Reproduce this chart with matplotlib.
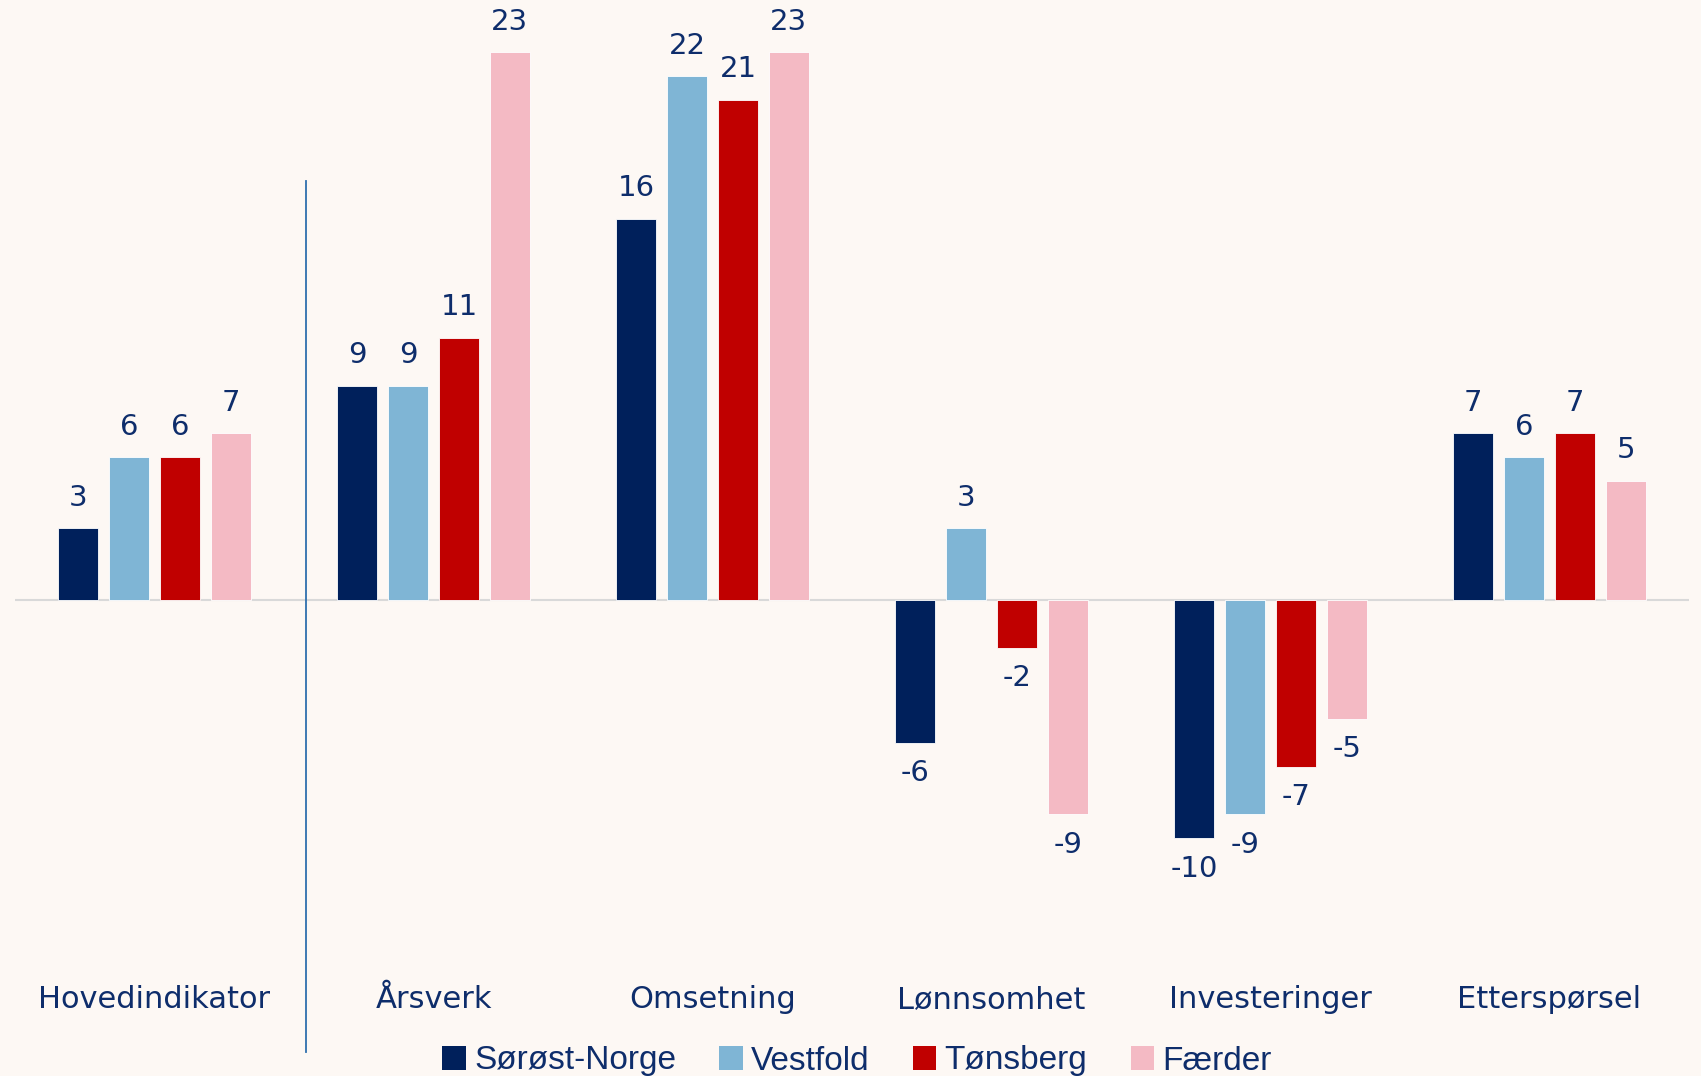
import numpy as np
import matplotlib.pyplot as plt
from matplotlib.patches import Rectangle

# data
categories = ["Hovedindikator", "Årsverk", "Omsetning", "Lønnsomhet", "Investeringer", "Etterspørsel"]
series_names = ["Sørøst-Norge", "Vestfold", "Tønsberg", "Færder"]
sorost_norge = [3, 9, 16, -6, -10, 7]
vestfold = [6, 9, 22, 3, -9, 6]
tonsberg = [6, 11, 21, -2, -7, 7]
faerder = [7, 23, 23, -9, -5, 5]

colors = ["#00205B", "#7FB5D5", "#C00000", "#F4BAC4"]
text_color = "#0E2D6B"
bg = "#FDF8F4"

plt.rcParams["font.family"] = ["DejaVu Sans"]

fig = plt.figure(figsize=(17.01, 10.76), dpi=100, facecolor=bg)
ax = fig.add_axes([15 / 1701, 0, 1674 / 1701, 1])
ax.set_facecolor(bg)

x = np.arange(len(categories))
width = 0.144
step = 0.1825
all_series = [sorost_norge, vestfold, tonsberg, faerder]

for i, (vals, col) in enumerate(zip(all_series, colors)):
    pos = x + (i - 1.5) * step
    bars = ax.bar(pos, vals, width=width, color=col, edgecolor="white", linewidth=0.6, zorder=2)
    for b, v in zip(bars, vals):
        off = 22 if v >= 0 else -22
        ax.annotate(f"{v}", (b.get_x() + b.get_width() / 2, v), xytext=(0, off),
                    textcoords="offset points", ha="center", va="center",
                    fontsize=21, color=text_color)

ax.set_xlim(-0.5, 5.5)
ax.set_ylim(-20.0, 25.2)
ax.axhline(0, color="#D9D9D9", linewidth=1.5, zorder=1)

# divider between main indicator and the rest
ax.plot([0.542, 0.542], [17.6, -19.0], color="#2E6FAE", linewidth=1.3, zorder=3)

for xi, cat in zip(x, categories):
    ax.text(xi, -16.8, cat, ha="center", va="center", fontsize=22, color=text_color)

ax.axis("off")

handles = [Rectangle((0, 0), 1, 1, facecolor=c) for c in colors]
leg = fig.legend(handles, series_names, loc="center", bbox_to_anchor=(857 / 1701, 1 - 1061 / 1076),
                 ncol=4, frameon=False, handlelength=0.7, handleheight=0.7,
                 handletextpad=0.25, columnspacing=1.3, labelcolor=text_color,
                 prop={"family": "Liberation Sans", "size": 24})

plt.savefig("out.png", dpi=100, facecolor=bg)
